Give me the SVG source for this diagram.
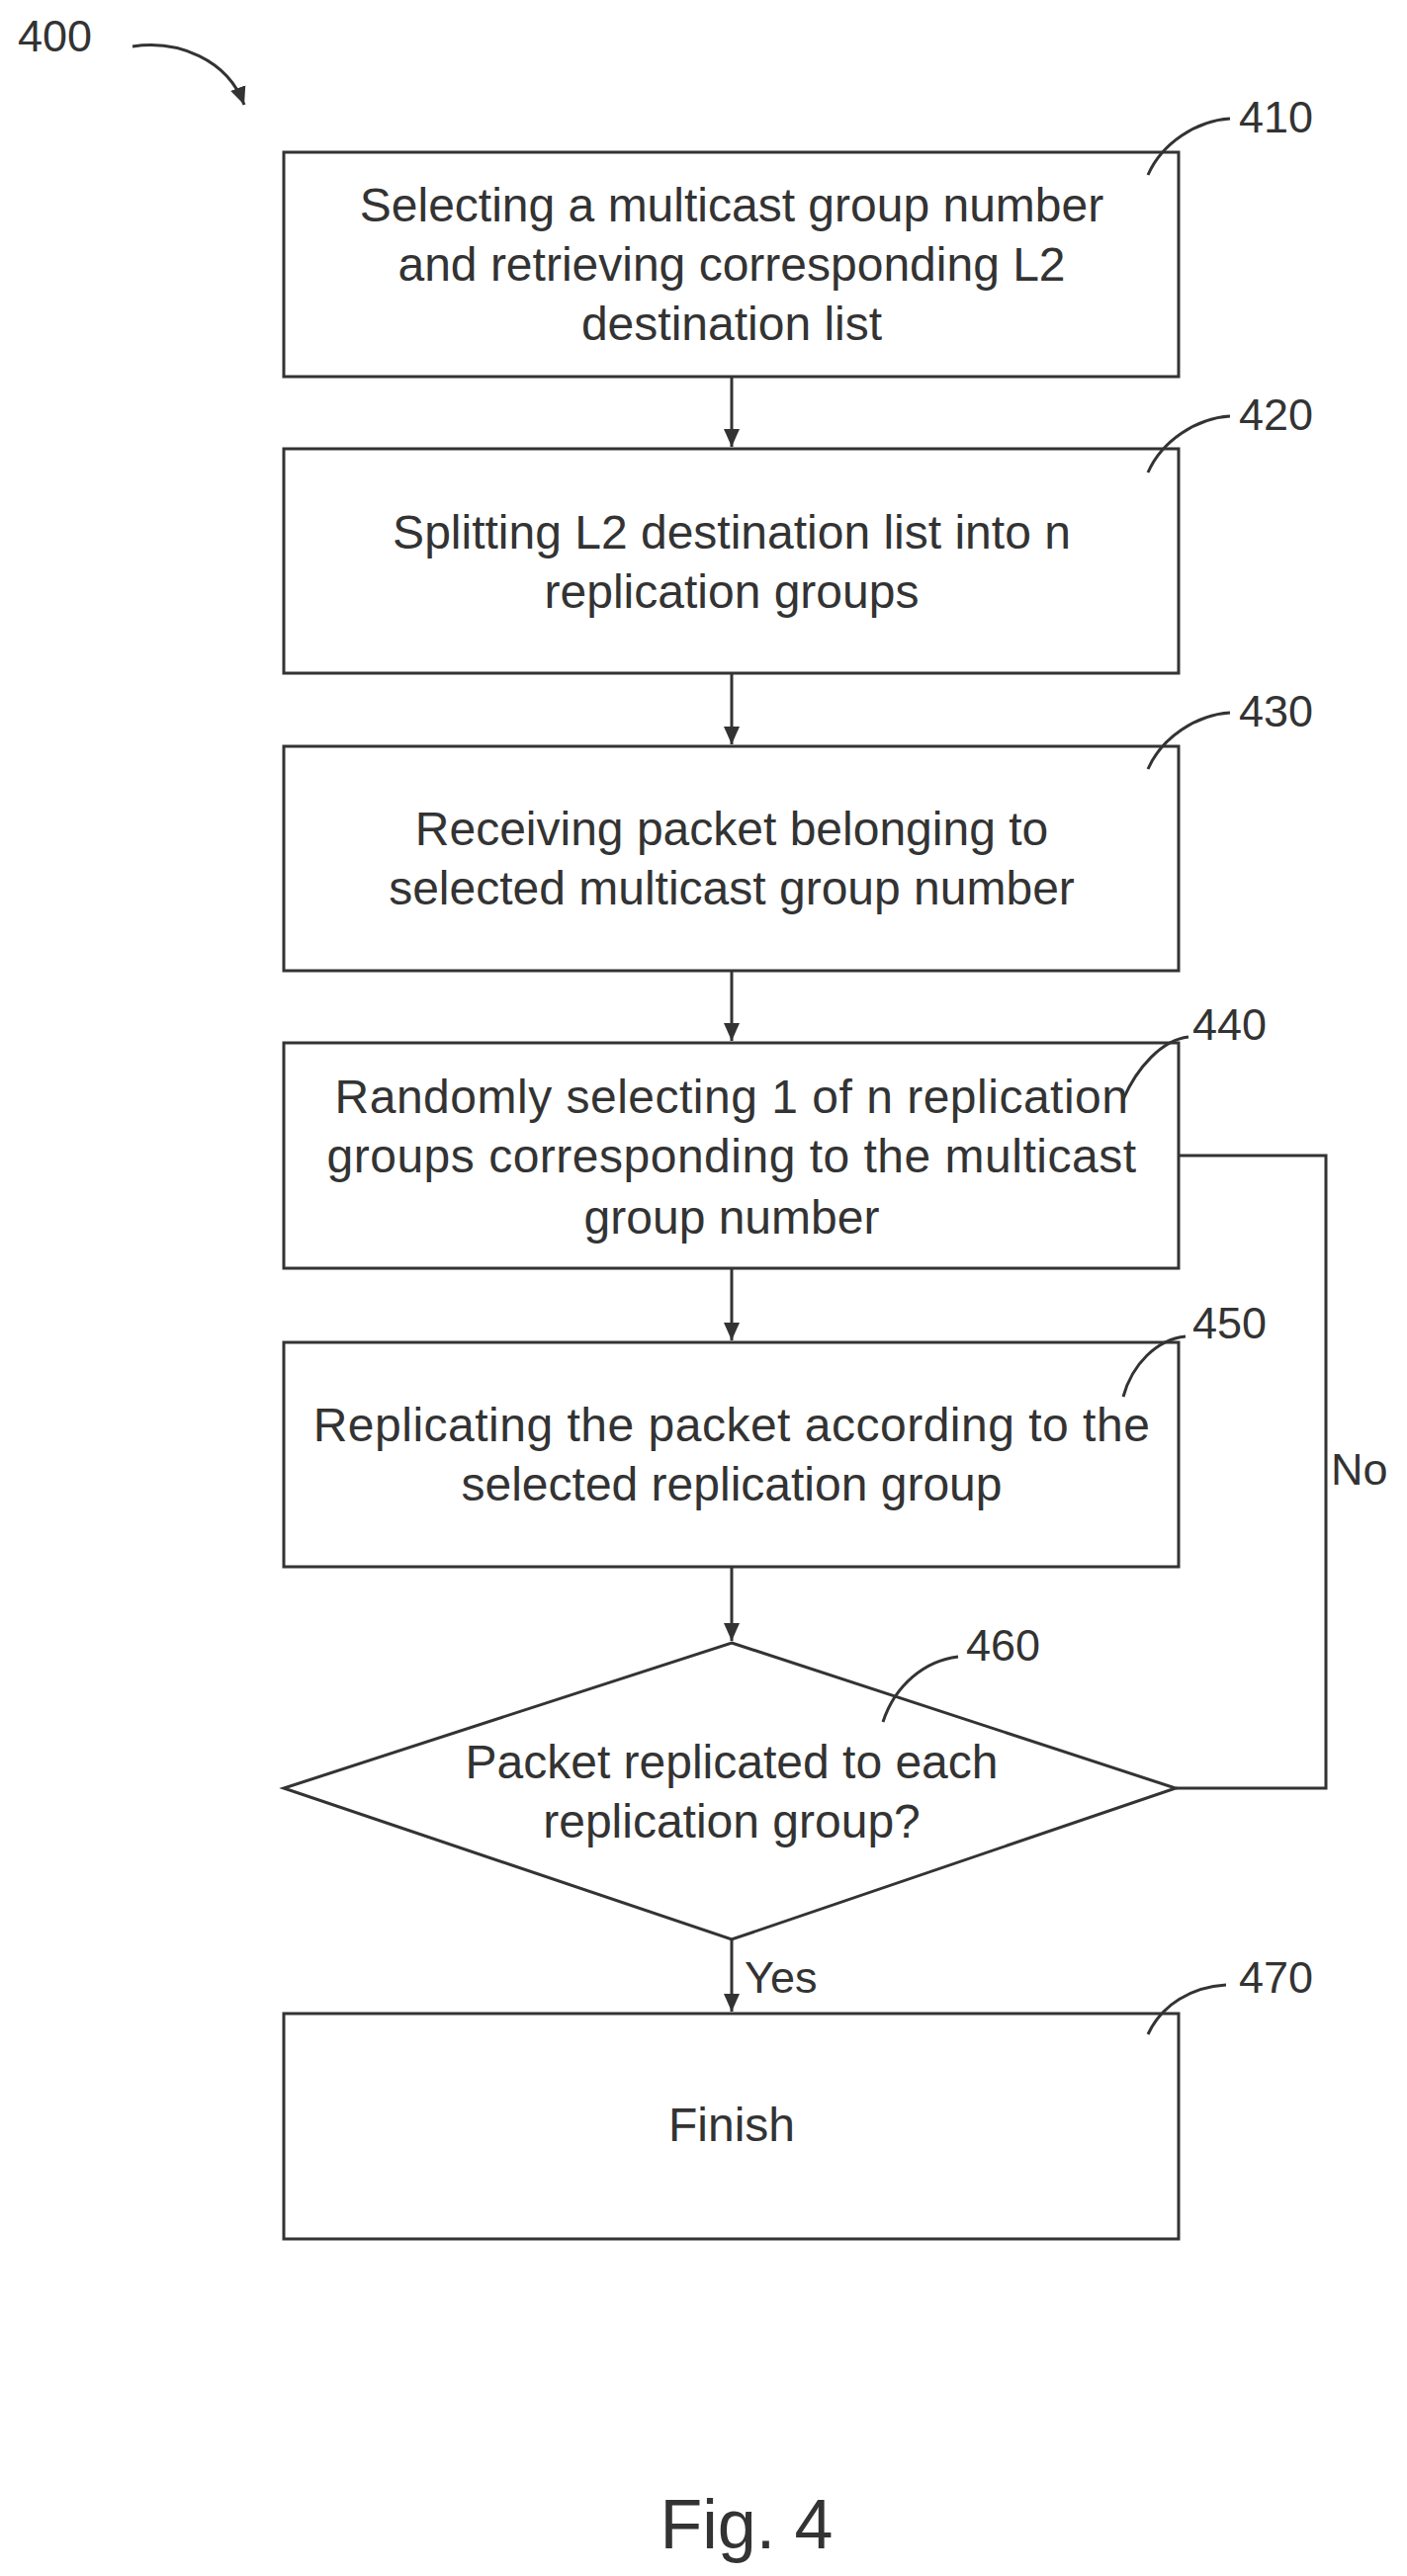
<svg xmlns="http://www.w3.org/2000/svg" width="1423" height="2606" viewBox="0 0 1423 2606">
<defs>
<style>
.b{fill:#fff;stroke:#333;stroke-width:3}
.l{fill:none;stroke:#333;stroke-width:3}
.t{font-family:"Liberation Sans",Arial,sans-serif;font-size:48px;fill:#333;text-anchor:middle}
.n{font-family:"Liberation Sans",Arial,sans-serif;font-size:45px;fill:#333}
</style>
<marker id="a2" markerWidth="20" markerHeight="20" refX="18" refY="10" orient="auto" markerUnits="userSpaceOnUse"><path d="M0,2 L18,10 L0,18 z" fill="#333"/></marker>
</defs>
<rect width="1423" height="2606" fill="#fff"/>
<g id="connectors">
<line class="l" x1="740" y1="381" x2="740" y2="452" marker-end="url(#a2)"/>
<line class="l" x1="740" y1="681" x2="740" y2="753" marker-end="url(#a2)"/>
<line class="l" x1="740" y1="982" x2="740" y2="1053" marker-end="url(#a2)"/>
<line class="l" x1="740" y1="1283" x2="740" y2="1356" marker-end="url(#a2)"/>
<line class="l" x1="740" y1="1585" x2="740" y2="1660" marker-end="url(#a2)"/>
<line class="l" x1="740" y1="1962" x2="740" y2="2035" marker-end="url(#a2)"/>
<polyline class="l" points="1192,1169 1341,1169 1341,1809 1189,1809"/>
<text class="n" x="1346" y="1502">No</text>
<text class="n" x="753" y="2016">Yes</text>
</g>
<g id="n400">
<text class="n" x="18" y="52">400</text>
<path class="l" d="M134,47 C180,40 230,60 247,106" marker-end="url(#a2)"/>
</g>
<g id="n410">
<rect class="b" x="287" y="154" width="905" height="227"/>
<text class="t" x="740" y="224">Selecting a multicast group number</text>
<text class="t" x="740" y="284">and retrieving corresponding L2</text>
<text class="t" x="740" y="344">destination list</text>
<path class="l" d="M1161,177 C1175,145 1210,122 1244,120"/>
<text class="n" x="1253" y="134">410</text>
</g>
<g id="n420">
<rect class="b" x="287" y="454" width="905" height="227"/>
<text class="t" x="740" y="555">Splitting L2 destination list into n</text>
<text class="t" x="740" y="615">replication groups</text>
<path class="l" d="M1161,478 C1175,446 1210,423 1244,421"/>
<text class="n" x="1253" y="435">420</text>
</g>
<g id="n430">
<rect class="b" x="287" y="755" width="905" height="227"/>
<text class="t" x="740" y="855">Receiving packet belonging to</text>
<text class="t" x="740" y="915">selected multicast group number</text>
<path class="l" d="M1161,778 C1175,746 1210,723 1244,721"/>
<text class="n" x="1253" y="735">430</text>
</g>
<g id="n440">
<rect class="b" x="287" y="1055" width="905" height="228"/>
<text class="t" x="740" y="1126" letter-spacing="0.5">Randomly selecting 1 of n replication</text>
<text class="t" x="740" y="1186" letter-spacing="0.5">groups corresponding to the multicast</text>
<text class="t" x="740" y="1248">group number</text>
<path class="l" d="M1136,1112 C1150,1080 1175,1052 1202,1049"/>
<text class="n" x="1206" y="1052">440</text>
</g>
<g id="n450">
<rect class="b" x="287" y="1358" width="905" height="227"/>
<text class="t" x="740" y="1458" letter-spacing="0.5">Replicating the packet according to the</text>
<text class="t" x="740" y="1518">selected replication group</text>
<path class="l" d="M1136,1413 C1145,1380 1170,1355 1199,1352"/>
<text class="n" x="1206" y="1354">450</text>
</g>
<g id="n460">
<polygon class="b" points="740,1662 1189,1809 740,1962 287,1809"/>
<text class="t" x="740" y="1799">Packet replicated to each</text>
<text class="t" x="740" y="1859">replication group?</text>
<path class="l" d="M893,1742 C905,1705 935,1680 969,1676"/>
<text class="n" x="977" y="1680">460</text>
</g>
<g id="n470">
<rect class="b" x="287" y="2037" width="905" height="228"/>
<text class="t" x="740" y="2166">Finish</text>
<path class="l" d="M1161,2058 C1175,2028 1205,2010 1240,2008"/>
<text class="n" x="1253" y="2016">470</text>
</g>
<text x="755" y="2578" font-family="Liberation Sans,Arial,sans-serif" font-size="70" fill="#333" text-anchor="middle">Fig. 4</text>
</svg>
